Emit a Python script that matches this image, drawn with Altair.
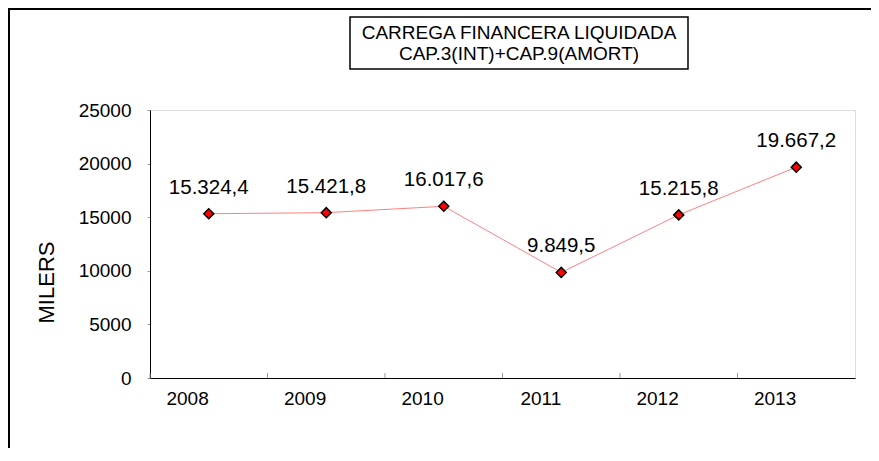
import altair as alt
import pandas as pd

years = ["2008", "2009", "2010", "2011", "2012", "2013"]
values = [15324.4, 15421.8, 16017.6, 9849.5, 15215.8, 19667.2]
labels = ["15.324,4", "15.421,8", "16.017,6", "9.849,5", "15.215,8", "19.667,2"]
y_ticks = [0, 5000, 10000, 15000, 20000, 25000]
title_lines = ["CARREGA FINANCERA LIQUIDADA", "CAP.3(INT)+CAP.9(AMORT)"]
y_title = "MILERS"

df = pd.DataFrame({"year": years, "value": values, "label": labels})
one = pd.DataFrame({"k": [0]})

FONT = "Liberation Sans"
W, H = 705, 268

xscale = alt.Scale(type="band", paddingInner=0, paddingOuter=0, domain=years)
yscale = alt.Scale(domain=[0, 25000], nice=False, zero=True)

x_main = alt.X(
    "year:N", scale=xscale, bandPosition=0.5,
    axis=alt.Axis(title=None, ticks=False, labelFontSize=19, labelColor="black",
                  labelFont=FONT, labelPadding=20, domainColor="black", labelAngle=0,
                  grid=False),
)
y_main = alt.Y(
    "value:Q", scale=yscale,
    axis=alt.Axis(values=y_ticks, format="d", title=y_title, titleFont=FONT,
                  titleFontSize=22, titleFontWeight="normal", titleColor="black",
                  titleAngle=270, titleX=-104, titleY=172, titleAlign="center",
                  titleBaseline="middle",
                  labelFontSize=19, labelColor="black", labelFont=FONT,
                  labelPadding=16, tickSize=3, tickColor="#999999",
                  domainColor="black", grid=False),
)

base = alt.Chart(df)

line = base.mark_line(color="#ff8080", strokeWidth=1).encode(x=x_main, y=y_main)

pts = base.mark_point(shape="diamond", filled=True, fill="#ff0000", stroke="black",
                      strokeWidth=1.5, size=100, opacity=1).encode(
    x=alt.X("year:N", scale=xscale, bandPosition=0.5),
    y=alt.Y("value:Q", scale=yscale),
)

txt = base.mark_text(font=FONT, fontSize=20.5, color="black", dy=-20,
                     baseline="alphabetic", align="center").encode(
    x=alt.X("year:N", scale=xscale, bandPosition=0.5),
    y=alt.Y("value:Q", scale=yscale),
    text="label:N",
)

xticks = base.mark_rule(color="#999999", strokeWidth=1).encode(
    x=alt.X("year:N", scale=xscale, bandPosition=0),
    y=alt.value(H - 5), y2=alt.value(H),
)

title_box = alt.Chart(one).mark_rect(fill="white", stroke="black", strokeWidth=1.5).encode(
    x=alt.value(200), x2=alt.value(538), y=alt.value(-93), y2=alt.value(-41),
)
title_txt = alt.Chart(one).mark_text(
    text=title_lines, font=FONT, fontSize=19, color="black", lineHeight=21,
    baseline="alphabetic", align="center",
).encode(x=alt.value(369), y=alt.value(-71))

border_left = alt.Chart(one).mark_rule(color="black", strokeWidth=2).encode(
    x=alt.value(-141), y=alt.value(-102), y2=alt.value(420))
border_top = alt.Chart(one).mark_rule(color="black", strokeWidth=2).encode(
    x=alt.value(-142), x2=alt.value(800), y=alt.value(-101))

chart = alt.layer(
    border_left, border_top, title_box, title_txt, xticks, line, pts, txt
).properties(
    width=W, height=H,
    autosize=alt.AutoSizeParams(type="none"),
    padding={"left": 142, "top": 102, "right": 16, "bottom": 70},
).configure_view(
    stroke="#a0a0a0", strokeWidth=1
).configure(font=FONT, background="white")

chart.save("out.html", embed_options={"renderer": "svg", "actions": False})
